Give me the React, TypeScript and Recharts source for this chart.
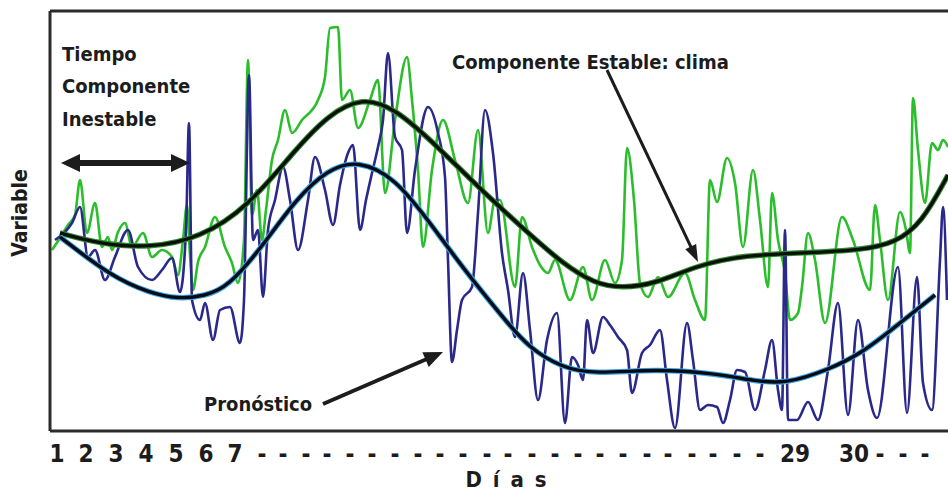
import React from "react";
import { LineChart, Line, XAxis, YAxis, ReferenceLine, Label } from "recharts";

// t = time step along the record, v = value of the variable (arbitrary units)
const serieVerde = [
  [2, 181], [10, 193], [18, 206], [25, 216], [30, 251], [37, 198], [45, 228], [52, 184],
  [58, 194], [62, 181], [68, 199], [75, 208], [82, 184], [93, 198], [102, 174], [112, 181],
  [122, 174], [128, 156], [133, 191], [137, 226], [140, 176], [143, 141], [148, 169], [155, 184],
  [165, 214], [175, 184], [182, 168], [188, 148], [194, 191], [198, 371], [202, 216], [207, 241],
  [212, 191], [216, 221], [222, 271], [228, 291], [235, 321], [242, 298], [252, 311], [268, 331],
  [275, 354], [280, 403], [288, 404], [292, 331], [300, 341], [308, 303], [320, 331], [328, 351],
  [335, 238], [345, 311], [357, 374], [362, 331], [368, 261], [373, 184], [382, 261], [393, 311],
  [405, 271], [418, 228], [428, 301], [438, 198], [445, 231], [450, 231], [465, 144], [472, 214],
  [482, 184], [490, 166], [498, 158], [505, 171], [520, 131], [533, 164], [542, 131], [555, 171],
  [565, 148], [572, 171], [577, 283], [584, 231], [590, 148], [598, 134], [608, 154], [618, 134],
  [635, 158], [645, 131], [655, 111], [660, 251], [667, 229], [677, 273], [685, 248], [693, 184],
  [703, 261], [710, 211], [718, 144], [722, 238], [728, 191], [735, 158], [740, 111], [748, 118],
  [752, 144], [758, 198], [765, 171], [775, 108], [792, 214], [803, 191], [820, 141], [825, 226],
  [830, 191], [838, 131], [850, 219], [856, 201], [860, 178], [863, 333], [868, 281], [875, 228],
  [882, 288], [888, 281], [893, 291], [898, 284],
];

const serieAzul = [
  [5, 191], [15, 199], [22, 208], [30, 224], [38, 174], [45, 181], [55, 151], [65, 174],
  [78, 201], [88, 164], [102, 151], [112, 161], [122, 173], [130, 139], [136, 201], [139, 308],
  [142, 131], [150, 111], [155, 128], [163, 91], [170, 121], [180, 124], [190, 88], [194, 131],
  [199, 356], [203, 191], [208, 201], [213, 134], [218, 201], [225, 231], [233, 264], [240, 231],
  [248, 181], [258, 231], [265, 274], [275, 241], [283, 206], [290, 246], [298, 278], [303, 286],
  [310, 201], [316, 231], [322, 258], [328, 284], [333, 311], [338, 378], [345, 294], [352, 281],
  [357, 198], [365, 261], [378, 324], [388, 298], [395, 254], [398, 171], [402, 69], [407, 101],
  [412, 131], [422, 144], [428, 218], [435, 321], [443, 278], [452, 178], [458, 141], [465, 94],
  [473, 158], [480, 101], [488, 31], [497, 91], [507, 118], [515, 8], [522, 74], [528, 66],
  [533, 51], [537, 111], [543, 78], [553, 114], [560, 106], [568, 94], [577, 81], [582, 38],
  [592, 78], [600, 86], [610, 101], [617, 51], [625, 3], [637, 108], [643, 71], [650, 21],
  [658, 26], [667, 24], [673, 8], [680, 31], [687, 61], [695, 59], [705, 21], [715, 61],
  [722, 91], [728, 41], [732, 21], [735, 201], [738, 11], [747, 11], [758, 29], [768, 11],
  [778, 61], [788, 128], [798, 16], [808, 111], [818, 41], [827, 13], [848, 164], [857, 18],
  [867, 154], [873, 48], [882, 21], [890, 171], [893, 224], [897, 131],
];

// componente estable (clima)
const climaLine = [
  [10, 198], [50, 187], [100, 183], [150, 193], [198, 224], [245, 281], [278, 316], [312, 334],
  [345, 323], [388, 284], [428, 244], [478, 198], [512, 168], [545, 147], [572, 143], [605, 147],
  [648, 166], [695, 176], [755, 178], [812, 181], [845, 188], [872, 208], [898, 256],
];

// pronóstico
const pronosticoLine = [
  [10, 194], [62, 154], [100, 138], [128, 132], [155, 135], [178, 144], [212, 184], [245, 231],
  [278, 262], [308, 271], [345, 253], [378, 211], [412, 164], [455, 111], [478, 84], [512, 63],
  [545, 57], [605, 62], [662, 58], [705, 50], [735, 47], [778, 61], [812, 78], [845, 104],
  [885, 136],
];

const dayTicks = [
  7, 36, 66, 96, 126, 156, 185,
  212, 233, 256, 277, 300, 322, 345, 368, 390, 413, 437, 458, 482, 505, 528, 550, 573, 597,
  618, 642, 663, 687, 710,
  745, 804, 830, 853, 875,
];
const dayLabels = [
  "1", "2", "3", "4", "5", "6", "7",
  "-", "-", "-", "-", "-", "-", "-", "-", "-", "-", "-", "-", "-", "-", "-", "-", "-", "-",
  "-", "-", "-", "-", "-",
  "29", "30", "-", "-", "-",
];

const toPts = (a: number[][]) => a.map(([t, v]) => ({ t, v }));

const FONT = "'DejaVu Sans Condensed', 'DejaVu Sans', sans-serif";
const INK = "#1c1c1c";

function DayTick(props: any) {
  const { x, y, payload } = props;
  const i = dayTicks.indexOf(payload.value);
  return (
    <text x={x} y={y + 29} textAnchor="middle" fontFamily={FONT} fontStretch="condensed"
      fontWeight="bold" fontSize={24} fill={INK}>
      {dayLabels[i]}
    </text>
  );
}

function Arrow({ x1, y1, x2, y2, w, head, half }: any) {
  const dx = x2 - x1, dy = y2 - y1;
  const len = Math.hypot(dx, dy);
  const ux = dx / len, uy = dy / len;
  const bx = x2 - ux * head, by = y2 - uy * head;
  const pts = `${x2},${y2} ${bx - uy * half},${by + ux * half} ${bx + uy * half},${by - ux * half}`;
  return (
    <g>
      <line x1={x1} y1={y1} x2={bx + ux * 2} y2={by + uy * 2} stroke={INK} strokeWidth={w} />
      <polygon points={pts} fill={INK} />
    </g>
  );
}

export default function App() {
  const txt = { fontFamily: FONT, fontStretch: "condensed", fontWeight: "bold", fontSize: 20, fill: INK } as const;
  return (
    <div style={{ position: "fixed", left: 0, top: 0, width: 948, height: 491, background: "#fff" }}>
      <LineChart width={948} height={491} margin={{ top: 11, right: 0, bottom: 0, left: 0 }}>
        <XAxis type="number" dataKey="t" domain={[0, 898]} ticks={dayTicks} interval={0}
          tick={DayTick} tickLine={false} tickSize={0} height={60} allowDataOverflow
          axisLine={{ stroke: "#2b2b2b", strokeWidth: 3 }}>
          <Label content={(p: any) => {
            const vb = p.viewBox;
            return (
              <text x={vb.x + vb.width / 2 + 8} y={vb.y + vb.height - 4} textAnchor="middle"
                fontFamily={FONT} fontWeight="bold" fontSize={22} fill={INK} letterSpacing={2}>
                D í a s
              </text>
            );
          }} />
        </XAxis>
        <YAxis type="number" domain={[0, 420]} tick={false} tickLine={false} width={50}
          allowDataOverflow axisLine={{ stroke: "#2b2b2b", strokeWidth: 3 }}>
          <Label content={(p: any) => {
            const vb = p.viewBox;
            const cx = vb.x + 20, cy = vb.y + vb.height / 2 - 8;
            return (
              <text x={cx} y={cy} transform={`rotate(-90 ${cx} ${cy})`} textAnchor="middle"
                dominantBaseline="central" fontFamily={FONT} fontStretch="condensed"
                fontWeight="bold" fontSize={21} fill={INK}>
                Variable
              </text>
            );
          }} />
        </YAxis>
        <ReferenceLine y={420} stroke="#2b2b2b" strokeWidth={3} />
        <Line data={toPts(serieVerde)} dataKey="v" type="monotone" stroke="#2cbd2c" strokeWidth={2.6}
          dot={false} isAnimationActive={false} />
        <Line data={toPts(serieAzul)} dataKey="v" type="monotone" stroke="#2a288a" strokeWidth={2.6}
          dot={false} isAnimationActive={false} />
        <Line data={toPts(climaLine)} dataKey="v" type="basis" stroke="#2f8a2f" strokeWidth={5.5}
          dot={false} isAnimationActive={false} />
        <Line data={toPts(climaLine)} dataKey="v" type="basis" stroke="#0a0f0a" strokeWidth={3.4}
          dot={false} isAnimationActive={false} />
        <Line data={toPts(pronosticoLine)} dataKey="v" type="basis" stroke="#3aa6e6" strokeWidth={5.5}
          dot={false} isAnimationActive={false} />
        <Line data={toPts(pronosticoLine)} dataKey="v" type="basis" stroke="#0a0a14" strokeWidth={3.4}
          dot={false} isAnimationActive={false} />
      </LineChart>
      <svg width={948} height={491} style={{ position: "absolute", left: 0, top: 0, pointerEvents: "none" }}>
        <text x={62} y={61} {...txt}>Tiempo</text>
        <text x={62} y={93} {...txt}>Componente</text>
        <text x={62} y={126} {...txt}>Inestable</text>
        <text x={452} y={69} {...txt}>Componente Estable: clima</text>
        <text x={204} y={411} {...txt}>Pronóstico</text>
        <Arrow x1={75} y1={163} x2={61} y2={163} w={6} head={19} half={9} />
        <Arrow x1={176} y1={163} x2={190} y2={163} w={6} head={19} half={9} />
        <line x1={78} y1={163} x2={173} y2={163} stroke={INK} strokeWidth={6} />
        <Arrow x1={607} y1={70} x2={698} y2={262} w={3} head={17} half={6} />
        <Arrow x1={323} y1={404} x2={443} y2={352} w={4} head={19} half={8} />
      </svg>
    </div>
  );
}
